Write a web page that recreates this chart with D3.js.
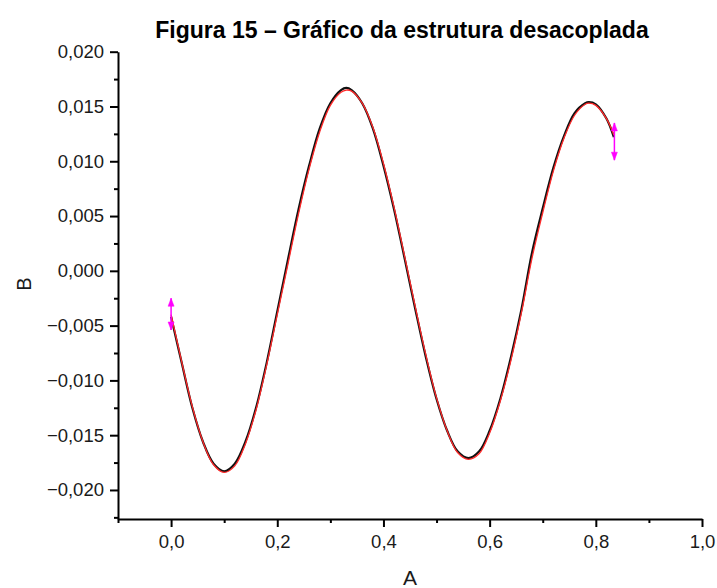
<!DOCTYPE html>
<html>
<head>
<meta charset="utf-8">
<script src="https://cdn.jsdelivr.net/npm/d3@7"></script>
<style>
  html, body { margin: 0; padding: 0; background: #fff; }
  svg { display: block; }
  text { font-family: "Liberation Sans", Arial, sans-serif; fill: #1a1a1a; }
</style>
</head>
<body>
<svg id="chart" width="717" height="588"></svg>
<script>
// ---- data ----
const titleText = "Figura 15 – Gráfico da estrutura desacoplada";
const xLabel = "A";
const yLabel = "B";

const xTicks = [0.0, 0.2, 0.4, 0.6, 0.8, 1.0];
const xMinorTicks = [-0.1, 0.1, 0.3, 0.5, 0.7, 0.9];
const yTicks = [0.020, 0.015, 0.010, 0.005, 0.000, -0.005, -0.010, -0.015, -0.020];
const yMinorTicks = [0.0175, 0.0125, 0.0075, 0.0025, -0.0025, -0.0075, -0.0125, -0.0175, -0.0225];

// measured curve (black)
const xData = [0.00, 0.02, 0.04, 0.06, 0.08, 0.10, 0.12, 0.14, 0.16, 0.18, 0.20,
               0.22, 0.24, 0.26, 0.28, 0.30, 0.32, 0.33, 0.34, 0.36, 0.38, 0.40,
               0.42, 0.44, 0.46, 0.48, 0.50, 0.52, 0.54, 0.56, 0.58, 0.60, 0.62,
               0.64, 0.66, 0.68, 0.70, 0.72, 0.74, 0.76, 0.78, 0.787, 0.80, 0.82, 0.834];
const yData = [-0.0042, -0.0084, -0.0125, -0.0156, -0.0176, -0.0183, -0.0176, -0.0156, -0.0125, -0.0084, -0.0037,
               0.0010, 0.0056, 0.0096, 0.0130, 0.0153, 0.0165, 0.0167, 0.0165, 0.0153, 0.0130, 0.0096,
               0.0056, 0.0011, -0.0035, -0.0079, -0.0117, -0.0146, -0.0165, -0.0171, -0.0165, -0.0146, -0.0117,
               -0.0079, -0.0035, 0.0017, 0.0057, 0.0094, 0.0123, 0.0144, 0.0153, 0.0154, 0.0152, 0.0139, 0.0122];
// fitted curve (red)
const yFit = [-0.0040, -0.0083, -0.0124, -0.0156, -0.0177, -0.0184, -0.0178, -0.0158, -0.0127, -0.0086, -0.0040,
              0.0006, 0.0052, 0.0093, 0.0127, 0.0151, 0.0163, 0.0165, 0.0164, 0.0153, 0.0131, 0.0098,
              0.0058, 0.0013, -0.0033, -0.0077, -0.0116, -0.0146, -0.0166, -0.0172, -0.0167, -0.0148, -0.0119,
              -0.0082, -0.0038, 0.0012, 0.0053, 0.0091, 0.0121, 0.0142, 0.0152, 0.0153, 0.0151, 0.0139, 0.0124];

// data-reader markers (magenta)
const markerX = [0.0, 0.835];
const markerTop = [-0.0025, 0.0135];
const markerBottom = [-0.0054, 0.0101];

// ---- drawing ----
const svg = d3.select("#chart");
const x = d3.scaleLinear().domain([-0.1, 1.0]).range([118, 702]);
const y = d3.scaleLinear().domain([-0.02265, 0.020]).range([519, 51.7]);
const fmt = d => d3.format(".3f")(d).replace("-", "\u2212").replace(".", ",");
const fmtX = d => d3.format(".1f")(d).replace(".", ",");

svg.append("text").attr("x", 402).attr("y", 38).attr("text-anchor", "middle")
  .style("font-weight", "bold").style("font-size", "23px").style("fill", "#000").text(titleText);

// y axis
const yAxis = svg.append("g").attr("transform", `translate(${x(-0.1)},0)`)
  .call(d3.axisLeft(y).tickValues(yTicks).tickSize(8).tickSizeOuter(0).tickFormat(fmt).tickPadding(6));
yAxis.append("g").call(d3.axisLeft(y).tickValues(yMinorTicks).tickSize(4).tickSizeOuter(0).tickFormat(""))
  .select(".domain").remove();

// x axis
const xAxis = svg.append("g").attr("transform", `translate(0,${y.range()[0]})`)
  .call(d3.axisBottom(x).tickValues(xTicks).tickSize(8).tickSizeOuter(0).tickFormat(fmtX).tickPadding(8));
xAxis.append("g").call(d3.axisBottom(x).tickValues(xMinorTicks).tickSize(4).tickSizeOuter(0).tickFormat(""))
  .select(".domain").remove();

svg.selectAll(".domain").attr("stroke", "#000").attr("stroke-width", 2);
svg.selectAll(".tick line").attr("stroke", "#000").attr("stroke-width", 2);
svg.selectAll(".tick text").style("font-size", "18.5px").style("font-family", "'Liberation Sans', Arial, sans-serif").attr("fill", "#1a1a1a");

// axis titles
svg.append("text").attr("x", 410).attr("y", 585).attr("text-anchor", "middle")
  .style("font-size", "21px").text(xLabel);
svg.append("text").attr("transform", "translate(31,284) rotate(-90)").attr("text-anchor", "middle")
  .style("font-size", "20px").text(yLabel);

// curves
const pts = xData.map((d, i) => [d, yData[i]]);
const fitPts = xData.map((d, i) => [d, yFit[i]]);
const line = d3.line().x(d => x(d[0])).y(d => y(d[1])).curve(d3.curveCatmullRom);
svg.append("path").datum(pts).attr("d", line).attr("fill", "none").attr("stroke", "#111").attr("stroke-width", 2.2);
svg.append("path").datum(fitPts).attr("d", line).attr("fill", "none").attr("stroke", "#ff2a2a").attr("stroke-width", 1.3);

// markers
const mg = svg.append("g").attr("fill", "#ff00ff").attr("stroke", "#ff00ff");
markerX.forEach((mx, i) => {
  const px = x(mx), t = y(markerTop[i]), b = y(markerBottom[i]);
  mg.append("line").attr("x1", px).attr("x2", px).attr("y1", t).attr("y2", b).attr("stroke-width", 1.5);
  mg.append("path").attr("d", `M${px},${t} L${px - 3},${t + 8} L${px + 3},${t + 8} Z`).attr("stroke-width", 0.5);
  mg.append("path").attr("d", `M${px},${b} L${px - 3},${b - 8} L${px + 3},${b - 8} Z`).attr("stroke-width", 0.5);
});
</script>
</body>
</html>
